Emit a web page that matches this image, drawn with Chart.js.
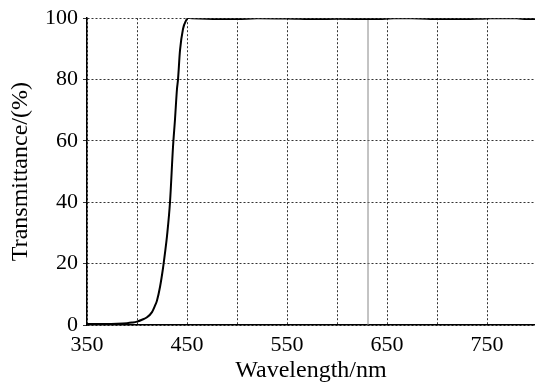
<!DOCTYPE html>
<html>
<head>
<meta charset="utf-8">
<script src="https://cdn.jsdelivr.net/npm/chart.js@4.4.1/dist/chart.umd.min.js"></script>
<style>
  html, body { margin: 0; padding: 0; background: #fff; }
  #wrap { width: 535px; height: 385px; }
</style>
</head>
<body>
<div id="wrap"><canvas id="specChart" width="535" height="385"></canvas></div>
<script>
// wavelength (nm) and transmittance (%)
const wavelengths = [350, 360, 370, 380, 390, 395, 400, 405, 410, 415, 418, 420, 423, 426, 428, 430, 433, 436, 438, 440, 441, 443, 446, 449, 451, 455, 470, 500, 520, 550, 580, 600, 640, 660, 690, 700, 740, 760, 780, 790, 798];
const transmittance = [0.3, 0.3, 0.3, 0.4, 0.6, 0.8, 1.1, 1.7, 2.5, 4.2, 6.3, 8.0, 12.4, 18.5, 23.5, 29, 40, 58, 67, 77, 80, 89.5, 96.5, 99.2, 100.1, 100, 99.8, 99.7, 100.0, 99.9, 99.7, 99.8, 99.7, 100.1, 99.8, 99.7, 99.8, 100.1, 100.0, 99.7, 99.7];

// thin grey marker line that sits in the plot
const markerX = [631, 631];
const markerY = [0, 100];

const xTicks = [350, 400, 450, 500, 550, 600, 650, 700, 750];
const xLabels = [350, 450, 550, 650, 750];
const yTicks = [0, 20, 40, 60, 80, 100];

const tickFont = { family: "'Liberation Serif', 'Times New Roman', serif", size: 22 };
const titleFont = { family: "'Liberation Serif', 'Times New Roman', serif", size: 24 };

/* ========== CHART ========== */
const ctx = document.getElementById("specChart").getContext("2d");
new Chart(ctx, {
    type: "line",
    data: {
        datasets: [
            {
                data: wavelengths.map((w, i) => ({ x: w, y: transmittance[i] })),
                borderColor: "#000",
                borderWidth: 2,
                pointRadius: 0,
                cubicInterpolationMode: "monotone",
                fill: false
            },
            {
                data: markerX.map((w, i) => ({ x: w, y: markerY[i] })),
                borderColor: "#888",
                borderWidth: 1,
                pointRadius: 0,
                fill: false
            }
        ]
    },
    options: {
        responsive: false,
        animation: false,
        layout: { padding: { top: 9, right: 0, left: 0, bottom: 0 } },
        plugins: { legend: { display: false }, tooltip: { enabled: false } },
        scales: {
            x: {
                type: "linear",
                min: 350,
                max: 798,
                afterBuildTicks: s => { s.ticks = xTicks.map(v => ({ value: v })); },
                afterFit: s => { s.height = 60; },
                ticks: {
                    color: "#000",
                    font: tickFont,
                    padding: 7,
                    maxRotation: 0,
                    autoSkip: false,
                    callback: v => xLabels.includes(v) ? String(v) : ""
                },
                grid: { color: "#333", lineWidth: 1, drawTicks: false },
                border: { color: "#000", width: 1.5, dash: [2, 2] },
                title: { display: true, text: "Wavelength/nm", color: "#000", font: titleFont, padding: { top: 0, bottom: 0 } }
            },
            y: {
                min: 0,
                max: 100,
                afterBuildTicks: s => { s.ticks = yTicks.map(v => ({ value: v })); },
                afterFit: s => { s.width = 87; },
                ticks: { color: "#000", font: tickFont, padding: 5 },
                grid: { color: "#333", lineWidth: 1, tickLength: 4 },
                border: { color: "#000", width: 1.5, dash: [2, 2] },
                title: { display: true, text: "Transmittance/(%)", color: "#000", font: titleFont, padding: { top: 6, bottom: 0 } }
            }
        }
    }
});
</script>
</body>
</html>
